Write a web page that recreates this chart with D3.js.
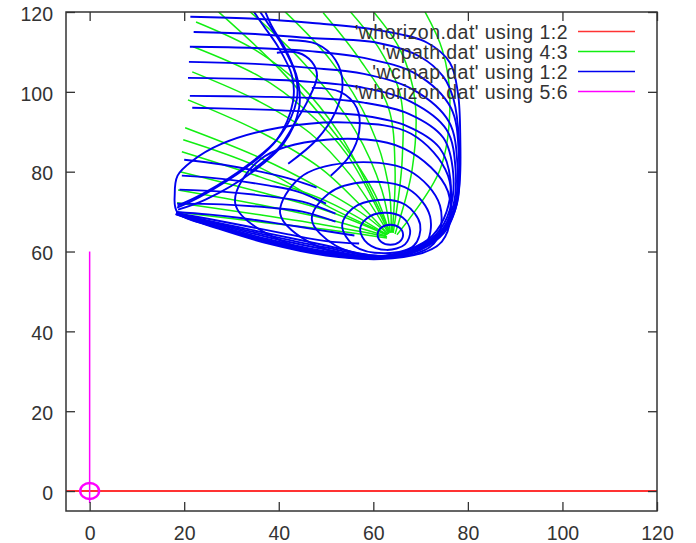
<!DOCTYPE html>
<html>
<head>
<meta charset="utf-8">
<script src="https://cdn.jsdelivr.net/npm/d3@7"></script>
<style>
  body { margin: 0; background: #fff; }
  text { font-family: "Liberation Sans", Arial, sans-serif; }
</style>
</head>
<body>
<div id="chart"></div>
<script>
// tick values on both axes
var xTicks = [0, 20, 40, 60, 80, 100, 120];
var yTicks = [0, 20, 40, 60, 80, 100, 120];

// legend entries, in plot order
var legendLabels = ["'whorizon.dat' using 1:2", "'wpath.dat' using 4:3", "'wcmap.dat' using 1:2", "'whorizon.dat' using 5:6"];

// 'whorizon.dat' using 1:2 : the horizon line
var horizonLine = [[-5, 0], [120, 0]];

// 'whorizon.dat' using 5:6 : vertical stem and small ring at the origin
var horizonStem = [[0, 60], [0, -3]];
var horizonRing = [[2, 0], [1.41, 1.41], [0, 2], [-1.41, 1.41], [-2, 0], [-1.41, -1.41], [0, -2], [1.41, -1.41]];

// 'wpath.dat' using 4:3 : paths running into the centre
var wpathCurves = [
    [[18.3, 69.9], [36.0, 67.4], [50.9, 65.4], [62.9, 63.4]],
    [[18.5, 72.2], [36.0, 69.2], [50.9, 66.4], [62.9, 63.7]],
    [[18.7, 75.4], [36.0, 71.7], [50.9, 67.9], [62.7, 63.9]],
    [[19.1, 80.0], [36.0, 74.9], [50.9, 69.9], [62.7, 64.2]],
    [[19.5, 85.0], [36.0, 78.7], [50.9, 72.2], [62.9, 64.2]],
    [[19.8, 88.0], [36.0, 81.0], [50.9, 71.0], [63.0, 64.3]],
    [[20.2, 91.0], [36.0, 83.5], [48.7, 75.9], [57.2, 69.9], [63.1, 64.4]],
    [[20.8, 98.0], [36.0, 90.0], [48.7, 81.0], [57.2, 71.7], [63.1, 64.4]],
    [[21.7, 105.0], [36.0, 97.5], [46.6, 89.7], [55.1, 79.2], [63.3, 64.4]],
    [[21.9, 111.3], [36.0, 103.8], [45.6, 95.5], [54.5, 84.2], [63.3, 64.7]],
    [[22.5, 117.5], [35.0, 110.5], [44.5, 101.8], [53.0, 89.2], [59.3, 75.4], [63.6, 64.7]],
    [[27.2, 120.1], [40.3, 105.5], [52.9, 88.0], [60.4, 74.2], [63.4, 64.7]],
    [[33.9, 120.1], [45.6, 106.8], [56.1, 90.5], [61.8, 75.4], [63.6, 64.7]],
    [[41.3, 120.1], [50.9, 108.0], [59.3, 91.7], [63.2, 76.7], [63.8, 64.7]],
    [[49.4, 119.8], [57.2, 108.0], [63.2, 96.0], [64.6, 80.5], [64.0, 64.7]],
    [[55.1, 120.1], [61.4, 110.5], [65.7, 99.2], [66.1, 82.9], [64.2, 64.7]],
    [[60.0, 120.1], [65.7, 110.5], [68.8, 98.0], [68.2, 80.5], [64.6, 64.4]],
    [[70.9, 120.1], [74.6, 110.5], [76.2, 98.0], [74.1, 80.5], [65.0, 64.2]]
];

// 'wcmap.dat' using 1:2 : closed rings round the centre
var wcmapRings = [
    [[60.9, 64.2], [61.7, 66.0], [63.6, 66.7], [65.5, 66.0], [66.3, 64.2], [65.5, 62.4], [63.6, 61.7], [61.7, 62.4]],
    [[57.2, 65.5], [58.6, 68.3], [62.3, 69.7], [66.2, 68.5], [67.8, 65.2], [66.7, 61.8], [62.8, 60.4], [58.8, 62.0]],
    [[53.4, 66.5], [55.6, 70.8], [61.0, 72.9], [66.8, 71.7], [69.9, 66.8], [68.6, 61.5], [62.5, 59.6], [56.0, 61.4]],
    [[47.0, 68.0], [50.5, 74.5], [58.5, 77.4], [67.5, 75.6], [72.0, 68.8], [70.8, 61.5], [62.0, 58.9], [52.0, 61.5]],
    [[40.3, 69.5], [44.5, 78.5], [54.5, 82.2], [67.5, 80.3], [74.1, 71.5], [72.8, 62.0], [62.0, 58.4], [47.0, 62.0]],
    [[30.8, 72.0], [36.0, 83.0], [50.0, 88.0], [66.5, 85.8], [75.8, 75.0], [74.5, 62.5], [61.5, 58.1], [40.0, 63.0]],
    [[18.6, 69.8], [18.0, 74.5], [18.6, 79.0], [21.5, 82.5], [28.0, 87.0], [40.0, 91.0], [55.0, 92.3], [68.0, 89.5], [75.8, 79.0], [75.2, 66.0], [68.0, 60.0], [60.5, 58.4], [45.0, 60.8], [30.0, 65.2]]
];

// 'wcmap.dat' using 1:2 : open rings, bands and spokes
var wcmapCurves = [
    [[21.7, 96.0], [35, 95.6], [46.6, 95.0], [58, 94.0], [67, 91.5], [74, 86.0], [76.3, 78.0], [75.5, 70.0], [72.5, 64.0], [67.5, 60.5], [61, 58.9], [50, 61.5], [38, 64.5], [27, 67.2], [18.4, 69.6]],
    [[21.2, 99.0], [35, 98.8], [46.6, 98.5], [58, 97.3], [67.5, 94.5], [74.8, 88.5], [76.9, 79.5], [76.2, 70.5], [73.2, 64.2], [68, 60.6], [61, 58.8], [50, 61.0], [38, 64.0], [27, 67.0], [18.4, 69.7]],
    [[20.8, 103.5], [35, 103.2], [46.6, 102.5], [58, 101.0], [68, 97.5], [75.5, 90.5], [77.4, 80.5], [76.8, 71.0], [73.8, 64.4], [68.5, 60.5], [61, 58.6], [50, 60.5], [38, 63.5], [27, 66.8], [18.3, 69.6]],
    [[21.0, 107.5], [35, 107.0], [46.6, 106.0], [58, 104.5], [68.5, 100.5], [76.0, 92.5], [77.8, 81.5], [77.3, 71.5], [74.3, 64.6], [69, 60.5], [61, 58.5], [50, 60.0], [38, 63.0], [27, 66.5], [18.3, 69.5]],
    [[21.2, 111.3], [35, 111.0], [46.6, 110.2], [58, 108.5], [69, 104.5], [76.4, 96.0], [78.1, 84.0], [77.7, 72.0], [74.8, 64.8], [69.3, 60.4], [61, 58.4], [50, 59.6], [38, 62.5], [27, 66.2], [18.3, 69.5]],
    [[22.0, 115.0], [35, 114.5], [46.6, 113.5], [60.8, 112.3], [69.9, 108.8], [74.8, 103.8], [77.0, 98.0], [78.1, 88.0], [78.0, 78.0], [77.0, 70.5], [74.5, 64.5], [69.5, 60.4], [61, 58.3], [50, 59.3], [38, 62.2], [27, 66.0], [18.2, 69.4]],
    [[21.3, 118.8], [35, 118.3], [46.6, 117.3], [60.8, 115.5], [71.4, 112.3], [76.2, 107.3], [77.9, 99.7], [78.4, 88.0], [78.3, 78.0], [77.4, 70.8], [75.0, 64.7], [69.8, 60.3], [61, 58.2], [50, 59.0], [38, 61.9], [27, 65.8], [18.2, 69.4]],
    // the bent band on the left
    [[18.5, 71.0], [23.3, 73.7], [33.3, 81.2], [39.6, 88.0], [43.0, 97.5], [42.8, 104], [40.0, 111], [36.5, 117], [34.5, 120.5]],
    [[18.6, 71.5], [24.0, 74.5], [33.8, 82.0], [40.3, 89.0], [43.8, 98.0], [43.5, 104.5], [40.8, 111.5], [37.5, 117.5], [35.8, 120.5]],
    [[18.7, 70.5], [24.5, 73.0], [34.5, 80.0], [41.0, 87.0], [44.3, 96.0], [44.0, 103], [41.5, 110.5], [38.5, 116.5], [37.0, 120.5]],
    [[39.6, 109.8], [44.1, 109.8], [47.0, 107.5], [48.1, 104.0], [46.0, 97.5], [43.9, 93.2], [40.0, 86.0], [34, 80.0]],
    [[42, 113], [48, 112], [52, 108], [53.5, 102], [52, 95], [48, 88], [42, 82]],
    [[47, 101], [53, 100], [56.5, 96], [57, 90], [55, 84], [51, 79]],
    // spokes running out to the left edge
    [[52, 67.5], [45, 70.0], [38, 71.0], [28, 71.8], [18.5, 72.0]],
    [[52, 69.5], [45, 72.5], [38, 73.8], [28, 75.0], [19.0, 75.5]],
    [[50, 72.0], [44, 75.0], [38, 76.5], [28, 78.2], [19.5, 79.0]],
    [[48, 76.0], [43, 78.0], [38, 79.5], [28, 81.8], [20.0, 83.0]],
    [[57, 62.0], [50, 62.6], [42, 64.3], [33, 66.4], [25, 68.2], [18.3, 69.6]],
    [[56, 64.0], [48, 65.5], [40, 67.0], [32, 68.4], [25, 69.3], [18.3, 69.9]]
];

// set the dimensions and margins of the graph
var margin = {top: 12, right: 39, bottom: 32, left: 66},
    width = 696 - margin.left - margin.right,
    height = 543 - margin.top - margin.bottom;

var x = d3.scaleLinear().domain([-5, 120]).range([0, width]);
var y = d3.scaleLinear().domain([-5, 120]).range([height, 0]);

var svg = d3.select("#chart")
    .append("svg")
        .attr("width", width + margin.left + margin.right)
        .attr("height", height + margin.top + margin.bottom)
    .append("g")
        .attr("transform", "translate(" + margin.left + "," + margin.top + ")");

svg.append("clipPath").attr("id", "clip")
    .append("rect").attr("width", width).attr("height", height);

var plot = svg.append("g").attr("clip-path", "url(#clip)");

var straight = d3.line().x(function(d) { return x(d[0]); }).y(function(d) { return y(d[1]); });
var smooth = d3.line().x(function(d) { return x(d[0]); }).y(function(d) { return y(d[1]); }).curve(d3.curveCatmullRom);
var smoothClosed = d3.line().x(function(d) { return x(d[0]); }).y(function(d) { return y(d[1]); }).curve(d3.curveCatmullRomClosed);

// red horizon
plot.append("path").datum(horizonLine)
    .attr("d", straight).attr("fill", "none")
    .attr("stroke", "#ff3333").attr("stroke-width", 2);

// green paths
plot.selectAll(".wpath").data(wpathCurves).enter().append("path")
    .attr("class", "wpath")
    .attr("d", smooth).attr("fill", "none")
    .attr("stroke", "#11ee11").attr("stroke-width", 1.5);

// blue map
plot.selectAll(".ring").data(wcmapRings).enter().append("path")
    .attr("class", "ring")
    .attr("d", smoothClosed).attr("fill", "none")
    .attr("stroke", "#0000f0").attr("stroke-width", 1.9);
plot.selectAll(".wcmap").data(wcmapCurves).enter().append("path")
    .attr("class", "wcmap")
    .attr("d", smooth).attr("fill", "none")
    .attr("stroke", "#0000f0").attr("stroke-width", 1.9);

// magenta stem and ring
plot.append("path").datum(horizonStem)
    .attr("d", straight).attr("fill", "none")
    .attr("stroke", "#ff00ff").attr("stroke-width", 1.5);
plot.append("path").datum(horizonRing)
    .attr("d", d3.line().x(function(d) { return x(d[0]); }).y(function(d) { return y(d[1]); }).curve(d3.curveCardinalClosed))
    .attr("fill", "none")
    .attr("stroke", "#ff00ff").attr("stroke-width", 2.4);

// axes with inward ticks, mirrored on top and right
function styleAxis(g) {
    g.select(".domain").remove();
    g.selectAll(".tick line").attr("stroke", "#333").attr("stroke-width", 1.3);
    g.selectAll(".tick text").attr("fill", "#333").style("font-size", "19.5px")
        .style("font-family", "'Liberation Sans', Arial, sans-serif");
}
svg.append("g")
    .attr("transform", "translate(0," + height + ")")
    .call(d3.axisBottom(x).tickValues(xTicks).tickSizeInner(-9).tickSizeOuter(0).tickPadding(15))
    .call(styleAxis);
svg.append("g")
    .call(d3.axisLeft(y).tickValues(yTicks).tickSizeInner(-9).tickSizeOuter(0).tickPadding(13))
    .call(styleAxis)
    .selectAll(".tick text").attr("dy", "0.42em");
svg.append("g")
    .call(d3.axisTop(x).tickValues(xTicks).tickSizeInner(-9).tickSizeOuter(0).tickFormat(""))
    .call(styleAxis);
svg.append("g")
    .attr("transform", "translate(" + width + ",0)")
    .call(d3.axisRight(y).tickValues(yTicks).tickSizeInner(-9).tickSizeOuter(0).tickFormat(""))
    .call(styleAxis);

// plot border
svg.append("rect")
    .attr("width", width).attr("height", height)
    .attr("fill", "none").attr("stroke", "#333").attr("stroke-width", 1.5);

// legend, top right
var legendColors = ["#ff3333", "#11ee11", "#0000f0", "#ff00ff"];
var legend = svg.append("g").attr("transform", "translate(0,19.5)");
legendLabels.forEach(function(label, i) {
    var row = legend.append("g").attr("transform", "translate(0," + (i * 20) + ")");
    row.append("text").attr("x", 502).attr("y", 0)
        .attr("text-anchor", "end").attr("dominant-baseline", "central")
        .style("font-size", "19.5px").style("letter-spacing", "0.45px").attr("fill", "#333")
        .text(label);
    row.append("line").attr("x1", 512).attr("x2", 569).attr("y1", 0).attr("y2", 0)
        .attr("stroke", legendColors[i]).attr("stroke-width", 1.5);
});
</script>
</body>
</html>
